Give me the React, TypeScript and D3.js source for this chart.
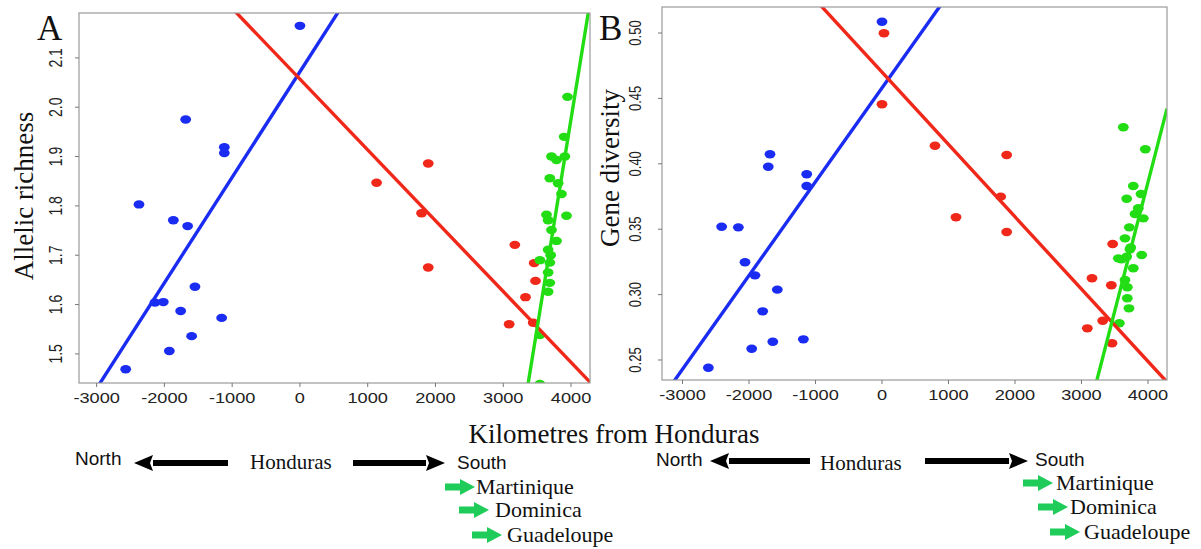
import { scaleLinear, format } from "d3"

// distance from Honduras (km) and the two diversity measures
const xTicks = [-3000, -2000, -1000, 0, 1000, 2000, 3000, 4000]
const richTicks = [1.5, 1.6, 1.7, 1.8, 1.9, 2.0, 2.1]
const divTicks = [0.25, 0.3, 0.35, 0.4, 0.45, 0.5]

// panel A : allelic richness
const aBlueX = [0, -1686, -1116, -1116, -2375, -1868, -1657, -1549, -2139, -2016, -1760, -1155, -1598, -1927, -2571]
const aBlueY = [2.165, 1.975, 1.919, 1.907, 1.803, 1.771, 1.759, 1.636, 1.604, 1.605, 1.587, 1.573, 1.536, 1.506, 1.469]
const aRedX = [1893, 1131, 1795, 1893, 3171, 3456, 3476, 3328, 3087, 3442]
const aRedY = [1.886, 1.847, 1.785, 1.675, 1.721, 1.684, 1.648, 1.615, 1.56, 1.563]
const aGreenX = [3948, 3899, 3712, 3786, 3909, 3687, 3810, 3859, 3638, 3933, 3662, 3712, 3786, 3662, 3700, 3540, 3687, 3662, 3687, 3662, 3540, 3540]
const aGreenY = [2.021, 1.94, 1.9, 1.893, 1.9, 1.856, 1.846, 1.824, 1.782, 1.78, 1.771, 1.751, 1.729, 1.711, 1.7, 1.69, 1.685, 1.665, 1.644, 1.626, 1.538, 1.439]
// regression fits [intercept, slope]
const aBlueFit = [2.072, 0.000214]
const aRedFit = [2.057, -0.0001435]
const aGreenFit = [-1.412, 0.000847]

// panel B : gene diversity
const bBlueX = [0, -1684, -1710, -1132, -1132, -2411, -2160, -2060, -1910, -1574, -1794, -1182, -1642, -1959, -2611]
const bBlueY = [0.5086, 0.4073, 0.3978, 0.392, 0.383, 0.3519, 0.3514, 0.3247, 0.3147, 0.3038, 0.2872, 0.2658, 0.264, 0.2586, 0.2441]
const bRedX = [30, 0, 797, 1875, 1113, 1785, 1875, 3469, 3158, 3449, 3319, 3088, 3459]
const bRedY = [0.4998, 0.4455, 0.4138, 0.4067, 0.3591, 0.3749, 0.3479, 0.3387, 0.3125, 0.3071, 0.28, 0.2742, 0.2628]
const bGreenX = [3629, 3960, 3779, 3895, 3680, 3855, 3805, 3930, 3719, 3654, 3729, 3554, 3680, 3905, 3779, 3654, 3689, 3689, 3714, 3569, 3600, 3740]
const bGreenY = [0.4279, 0.4111, 0.383, 0.3769, 0.3733, 0.366, 0.3616, 0.3583, 0.3514, 0.343, 0.3346, 0.3277, 0.329, 0.3303, 0.3201, 0.3112, 0.3056, 0.2972, 0.2895, 0.2781, 0.327, 0.336]
const bBlueFit = [0.458, 0.0000717]
const bRedFit = [0.4701, -0.0000553]
const bGreenFit = [-0.4021, 0.000197]

const places = ["Martinique", "Dominica", "Guadeloupe"]

const BLUE = "#1b2cf2"
const RED = "#f0281a"
const GREEN = "#22dd14"
const SANS = "'Liberation Sans', Arial, sans-serif"
const SERIF = "'Liberation Serif', 'Times New Roman', serif"

function Panel({ id, letter, box, xDomain, yDomain, yTicks, yFmt, yLabel, yLabelPos, series, labelX, letterX, tickSize }) {
  const x = scaleLinear().domain(xDomain).range([box.left, box.right])
  const y = scaleLinear().domain(yDomain).range([box.bottom, box.top])
  const fmt = format(yFmt)
  return (
    <g>
      <defs>
        <clipPath id={"clip" + id}>
          <rect x={box.left} y={box.top} width={box.right - box.left} height={box.bottom - box.top} />
        </clipPath>
      </defs>
      <g clipPath={`url(#clip${id})`}>
        {series.map((s, si) => s.xs.map((v, i) => (
          <ellipse key={si + "-" + i} cx={x(v)} cy={y(s.ys[i])} rx={5.4} ry={4.2} fill={s.color} />
        )))}
        {series.map((s, si) => (
          <line key={"f" + si}
            x1={x(xDomain[0])} y1={y(s.fit[0] + s.fit[1] * xDomain[0])}
            x2={x(xDomain[1])} y2={y(s.fit[0] + s.fit[1] * xDomain[1])}
            stroke={s.color} strokeWidth={3.4} />
        ))}
      </g>
      <rect x={box.left} y={box.top} width={box.right - box.left} height={box.bottom - box.top}
        fill="none" stroke="#9a9a9a" strokeWidth={1.2} />
      {xTicks.map(t => (
        <g key={"x" + t}>
          <line x1={x(t)} x2={x(t)} y1={box.bottom} y2={box.bottom + 4} stroke="#777" />
          <text transform={`translate(${x(t)},${box.bottom + 20}) scale(1.3,1)`} textAnchor="middle"
            fontFamily={SANS} fontSize={14} fill="#222">{t}</text>
        </g>
      ))}
      {yTicks.map(t => (
        <g key={"y" + t}>
          <line x1={box.left - 4} x2={box.left} y1={y(t)} y2={y(t)} stroke="#777" />
          <text transform={`translate(${labelX},${y(t)}) scale(1.25,1) rotate(-90)`} textAnchor="middle"
            dy="0.36em" fontFamily={SANS} fontSize={tickSize} fill="#222">{fmt(t)}</text>
        </g>
      ))}
      <text transform={`translate(${yLabelPos[0]},${yLabelPos[1]}) rotate(-90)`}
        textAnchor="middle" fontFamily={SERIF} fontSize={27} fill="#111">{yLabel}</text>
      <text x={letterX} y={40} fontFamily={SERIF} fontSize={35} fill="#111">{letter}</text>
    </g>
  )
}

function BlackArrow({ x1, x2, y }) {
  // x2 is the tip
  const dir = x2 > x1 ? 1 : -1
  const head = 19
  const base = x2 - dir * head
  return (
    <g>
      <rect x={Math.min(x1, base)} y={y - 3} width={Math.abs(base - x1)} height={6} fill="#000" />
      <path d={`M${x2},${y} L${base},${y - 8} L${base + dir * 3},${y} L${base},${y + 8} Z`} fill="#000" />
    </g>
  )
}

function GreenArrow({ x, y }) {
  return (
    <g>
      <rect x={x} y={y - 3.5} width={17} height={7} fill="#1fcc5a" />
      <path d={`M${x + 30},${y} L${x + 15},${y - 8} L${x + 15},${y + 8} Z`} fill="#1fcc5a" />
    </g>
  )
}

function Directions({ north, left, hond, right, south, rows }) {
  return (
    <g>
      <text x={north.x} y={north.y} fontFamily={SANS} fontSize={19} fill="#111">North</text>
      <BlackArrow x1={left[1]} x2={left[0]} y={left[2]} />
      <text x={hond.x} y={hond.y} fontFamily={SERIF} fontSize={21} fill="#111">Honduras</text>
      <BlackArrow x1={right[0]} x2={right[1]} y={right[2]} />
      <text x={south.x} y={south.y} fontFamily={SANS} fontSize={19} fill="#111">South</text>
      {places.map((p, i) => (
        <g key={p}>
          <GreenArrow x={rows[i][0]} y={rows[i][2] - 7} />
          <text x={rows[i][1]} y={rows[i][2]} fontFamily={SERIF} fontSize={22} fill="#111">{p}</text>
        </g>
      ))}
    </g>
  )
}

export default function App() {
  const seriesA = [
    { xs: aBlueX, ys: aBlueY, fit: aBlueFit, color: BLUE },
    { xs: aRedX, ys: aRedY, fit: aRedFit, color: RED },
    { xs: aGreenX, ys: aGreenY, fit: aGreenFit, color: GREEN },
  ]
  const seriesB = [
    { xs: bBlueX, ys: bBlueY, fit: bBlueFit, color: BLUE },
    { xs: bRedX, ys: bRedY, fit: bRedFit, color: RED },
    { xs: bGreenX, ys: bGreenY, fit: bGreenFit, color: GREEN },
  ]
  return (
    <div style={{ position: "absolute", left: 0, top: 0, width: 1201, height: 549, background: "#fff" }}>
      <svg width={1201} height={549} style={{ display: "block" }}>
        <Panel id="a" letter="A" box={{ left: 79, right: 590, top: 13, bottom: 383 }}
          xDomain={[-3260, 4280]} yDomain={[1.441, 2.191]} yTicks={richTicks} yFmt=".1f"
          yLabel="Allelic richness" yLabelPos={[33, 196]} series={seriesA} labelX={56} letterX={37} tickSize={14} />
        <Panel id="b" letter="B" box={{ left: 662, right: 1167, top: 7, bottom: 380 }}
          xDomain={[-3308, 4286]} yDomain={[0.2347, 0.5199]} yTicks={divTicks} yFmt=".2f"
          yLabel="Gene diversity" yLabelPos={[619, 168]} series={seriesB} labelX={635} letterX={599} tickSize={13} />
        <text x={614} y={443} textAnchor="middle" fontFamily={SERIF} fontSize={27} fill="#111">
          Kilometres from Honduras
        </text>
        <Directions north={{ x: 75, y: 465 }} left={[134, 228, 463]} hond={{ x: 250, y: 469 }}
          right={[353, 445, 463]} south={{ x: 457, y: 469 }}
          rows={[[445, 476, 494], [459, 495, 517], [472, 507, 542]]} />
        <Directions north={{ x: 656, y: 466 }} left={[710, 810, 461]} hond={{ x: 820, y: 470 }}
          right={[925, 1028, 461]} south={{ x: 1035, y: 466 }}
          rows={[[1023, 1056, 490], [1038, 1070, 514], [1050, 1084, 539]]} />
      </svg>
    </div>
  )
}
